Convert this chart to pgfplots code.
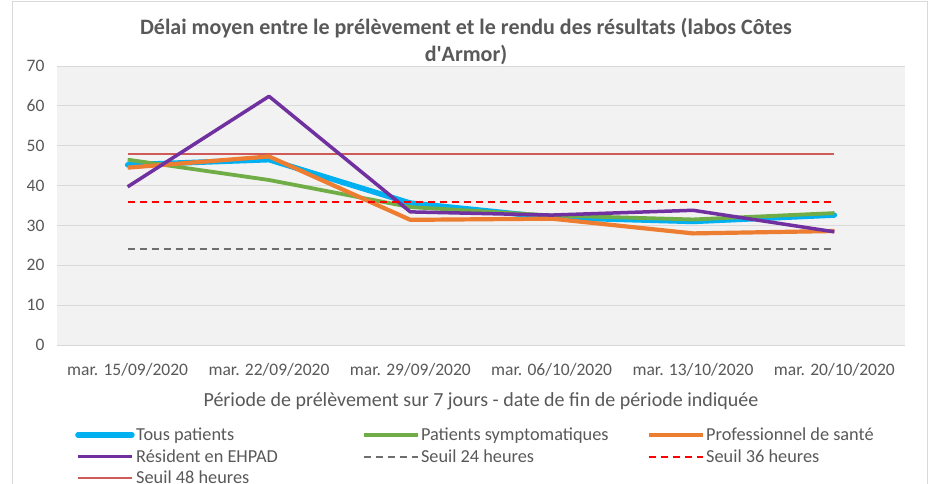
\documentclass[border=0pt]{standalone}
\usepackage{pgfplots}
\pgfplotsset{compat=1.18}
\usepackage{fontspec}
\setmainfont{Carlito}
\definecolor{cBlue}{HTML}{00B0F0}
\definecolor{cGreen}{HTML}{70AD47}
\definecolor{cOrange}{HTML}{ED7D31}
\definecolor{cPurple}{HTML}{7030A0}
\definecolor{cGrid}{HTML}{D9D9D9}
\definecolor{cBack}{HTML}{F2F2F2}
\definecolor{cText}{HTML}{595959}
\definecolor{cGray24}{HTML}{6E6E6E}
\definecolor{cRed36}{HTML}{FF0000}
\definecolor{cRed48}{HTML}{D05A58}
\begin{document}
\begin{tikzpicture}[x=1pt,y=1pt]
\useasboundingbox (-57,-138) rectangle (876,345);
\fill[white] (-57,-138) rectangle (876,345);
\draw[cGrid,line width=0.8pt] (-45,-140) -- (-45,344) -- (870,344) -- (870,-140);
\begin{axis}[
  at={(0,0)}, anchor=south west,
  scale only axis, width=848pt, height=279pt,
  xmin=-0.5, xmax=5.5, ymin=0, ymax=70,
  xtick={0,1,2,3,4,5},
  xticklabels={mar. 15/09/2020,mar. 22/09/2020,mar. 29/09/2020,mar. 06/10/2020,mar. 13/10/2020,mar. 20/10/2020},
  ytick={0,10,...,70},
  /pgf/number format/assume math mode=true,
  ymajorgrids, grid style={cGrid,line width=0.9pt},
  axis background/.style={fill=cBack},
  axis line style={draw=none},
  major tick length=0pt,
  tick label style={font=\fontsize{17.5}{20}\selectfont, text=cText},
  yticklabel style={xshift=-9pt},
  xticklabel style={yshift=-15pt},
  xlabel={Période de prélèvement sur 7 jours - date de fin de période indiquée},
  xlabel style={font=\fontsize{20}{22}\selectfont, text=cText, at={(axis description cs:0.5,0)}, anchor=center, yshift=-56pt},
  legend columns=3,
  legend style={at={(18pt,-81pt)}, anchor=north west, draw=none, fill=none,
    font=\fontsize{18.3}{20}\selectfont, text=cText,
    row sep=4.5pt, inner sep=0pt, column sep=0pt,
    nodes={inner sep=1.5pt}},
  legend cell align=left,
  legend image code/.code={\draw[#1] (0pt,0pt) -- (54pt,0pt);},
]
\addplot[forget plot, draw=cRed48, line width=1.8pt, dash pattern=on 2000pt off 0pt] coordinates {(0,48) (1,48) (2,48) (3,48) (4,48) (5,48)};
\addplot[color=cBlue, line width=5.5pt, line cap=round, line join=round] coordinates {(0,45.2) (1,46.5) (2,35.6) (3,32) (4,31) (5,32.6)};
\addlegendentry{\makebox[224pt][l]{Tous patients}}
\addplot[color=cGreen, line width=3.8pt, line join=round] coordinates {(0,46.5) (1,41.4) (2,34.6) (3,32.5) (4,31.5) (5,33.1)};
\addlegendentry{\makebox[224pt][l]{Patients symptomatiques}}
\addplot[color=cOrange, line width=4.2pt, line join=round] coordinates {(0,44.5) (1,47.3) (2,31.4) (3,31.7) (4,28) (5,28.6)};
\addlegendentry{Professionnel de santé}
\addplot[color=cPurple, line width=3.5pt, line join=round] coordinates {(0,39.7) (1,62.4) (2,33.4) (3,32.6) (4,33.8) (5,28.4)};
\addlegendentry{\makebox[224pt][l]{Résident en EHPAD}}
\addplot[color=cGray24, line width=2pt, line join=round, dash pattern=on 7pt off 5pt] coordinates {(0,24) (1,24) (2,24) (3,24) (4,24) (5,24)};
\addlegendentry{\makebox[224pt][l]{Seuil 24 heures}}
\addplot[color=cRed36, line width=2pt, line join=round, dash pattern=on 7pt off 5pt] coordinates {(0,36) (1,36) (2,36) (3,36) (4,36) (5,36)};
\addlegendentry{Seuil 36 heures}
\addlegendimage{color=cRed48, line width=1.8pt}
\addlegendentry{\makebox[224pt][l]{Seuil 48 heures}}
\end{axis}
\node[font=\bfseries\fontsize{22}{27}\selectfont, text=cText, align=center] at (409,303) {Délai moyen entre le prélèvement et le rendu des résultats (labos Côtes\\d\textquotesingle Armor)};
\end{tikzpicture}
\end{document}
